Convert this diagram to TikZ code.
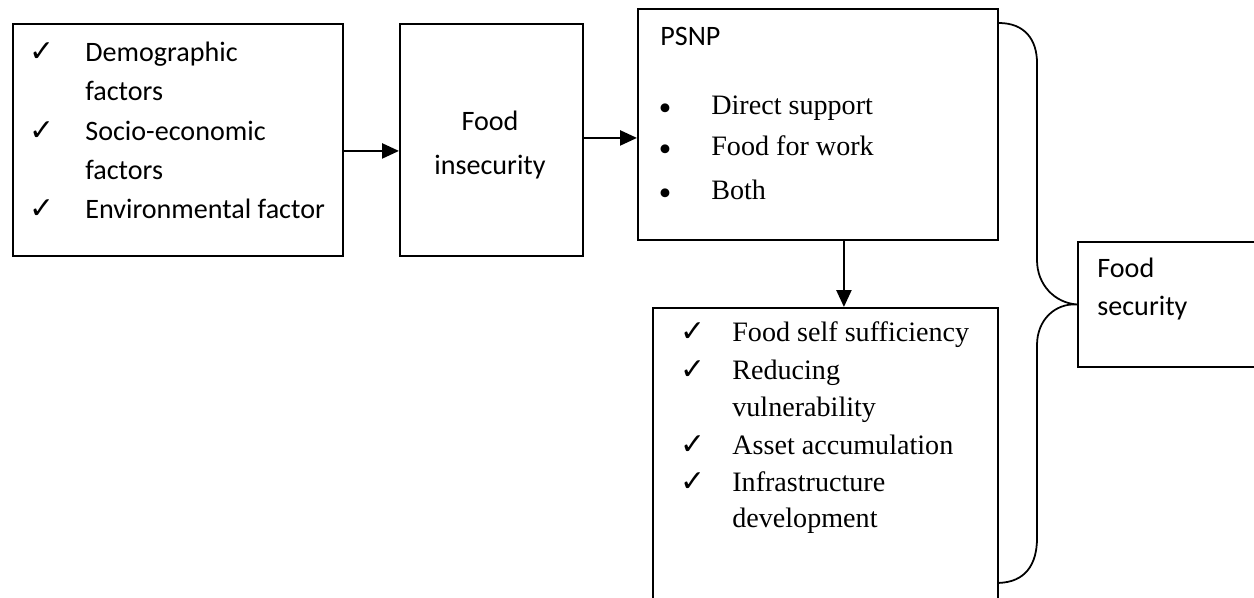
\documentclass[tikz,border=0pt]{standalone}
\usepackage{fontspec}
\setmainfont{Liberation Serif}
\newfontfamily\calibri{Carlito}
\newfontfamily\symb{DejaVu Sans}
\usetikzlibrary{arrows.meta}

\begin{document}
\begin{tikzpicture}[x=0.02cm,y=-0.02cm,inner sep=0pt]
    \tikzstyle{box}=[rectangle,draw,line width=1.1pt,anchor=north west]
    \tikzstyle{arr}=[line width=1.4pt,-{Triangle[length=0.34cm,width=0.3cm]}]
    \tikzstyle{sans}=[anchor=base west,font=\calibri\fontsize{16}{19}\selectfont]
    \tikzstyle{serif}=[anchor=base west,font=\fontsize{16}{19}\selectfont]
    \tikzstyle{tick}=[anchor=base,font=\symb\fontsize{17}{19}\selectfont]
    \tikzstyle{dot}=[anchor=base,font=\fontsize{21}{23}\selectfont]
    \useasboundingbox (0,0) rectangle (1254,598);

    % boxes
    \node[box,minimum width=6.6cm,minimum height=4.64cm] (factors) at (12,23) {};
    \node[box,minimum width=3.66cm,minimum height=4.64cm] (insecure) at (399,23) {};
    \node[box,minimum width=7.2cm,minimum height=4.62cm] (psnp) at (637,8) {};
    \node[box,minimum width=6.9cm,minimum height=5.9cm] (outcome) at (652,307) {};
    \node[box,minimum width=3.62cm,minimum height=2.5cm] (secure) at (1077,241) {};

    % causes
    \foreach \t/\y [count=\i] in {Demographic/62, factors/101, Socio-economic/140, factors/179, Environmental factor/218} {
        \node[sans] (f\i) at (85,\y) {\t};
    };
    \foreach \y [count=\i] in {62,140,218} {
        \node[tick] (fc\i) at (42,\y) {✓};
    };

    \node[sans,anchor=base] (in1) at (490,131) {Food};
    \node[sans,anchor=base] (in2) at (490,174) {insecurity};

    % programme
    \node[sans] (ptitle) at (660,46) {PSNP};
    \foreach \t/\y [count=\i] in {Direct support/114, Food for work/155, Both/199} {
        \node[dot] (pb\i) at (665,\y+6) {\textbullet};
        \node[serif] (p\i) at (711,\y) {\t};
    };

    % outcomes
    \foreach \t/\y [count=\i] in {Food self sufficiency/341, Reducing/379, vulnerability/416, Asset accumulation/454, Infrastructure/491, development/527} {
        \node[serif] (o\i) at (732,\y) {\t};
    };
    \foreach \y [count=\i] in {341,379,454,491} {
        \node[tick] (oc\i) at (693,\y) {✓};
    };

    \node[sans] (s1) at (1097,277) {Food};
    \node[sans] (s2) at (1097,315) {security};

    % links
    \draw[arr] ([yshift=-0.22cm]factors.east) -- ([yshift=-0.22cm]insecure.west);
    \coordinate (out) at ([yshift=0.04cm]insecure.east);
    \draw[arr] (out) -- (out -| psnp.west);
    \coordinate (drop) at ([xshift=0.52cm]psnp.south);
    \draw[arr] (drop) -- (drop |- outcome.north);

    \draw[line width=1pt] ([yshift=-0.3cm]psnp.north east) .. controls (1025,23) and (1037,40) .. (1037,63)
        -- (1037,260) .. controls (1037,285) and (1055,303) .. (secure.west)
        .. controls (1055,303) and (1037,320) .. (1037,345)
        -- (1037,538) .. controls (1037,565) and (1025,582) .. ([yshift=-2.55cm]outcome.east);
\end{tikzpicture}
\end{document}
